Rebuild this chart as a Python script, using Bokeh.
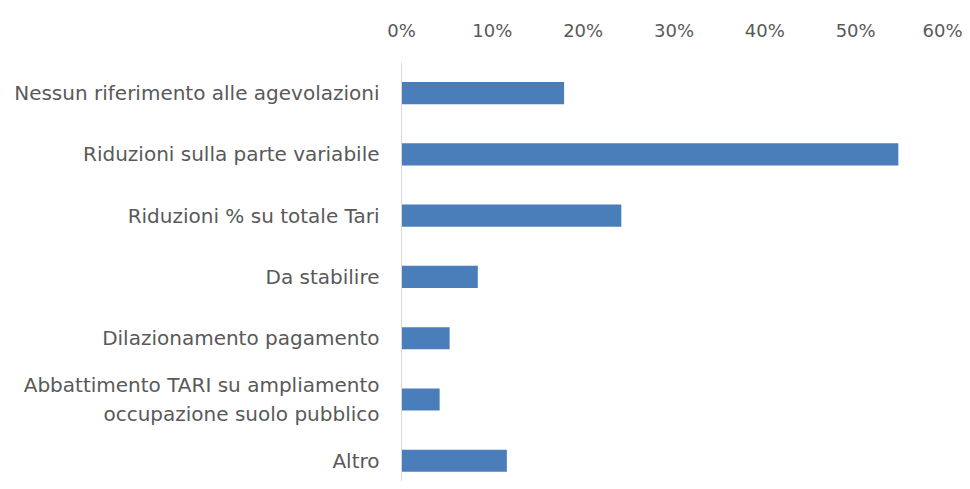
from bokeh.plotting import figure
from bokeh.models import Range1d, FixedTicker, NumeralTickFormatter
from bokeh.embed import file_html
from bokeh.resources import INLINE

categories = [
    "Nessun riferimento alle agevolazioni",
    "Riduzioni sulla parte variabile",
    "Riduzioni % su totale Tari",
    "Da stabilire",
    "Dilazionamento pagamento",
    "Abbattimento TARI su ampliamento\noccupazione suolo pubblico",
    "Altro",
]
values = [0.179, 0.547, 0.242, 0.084, 0.053, 0.042, 0.116]
x_ticks = [0, 0.1, 0.2, 0.3, 0.4, 0.5, 0.6]

positions = list(range(len(categories)))

p = figure(width=962, height=481, output_backend="svg", toolbar_location=None,
           x_axis_location="above",
           x_range=Range1d(0, 0.6), y_range=Range1d(6.34, -0.5),
           min_border_left=401, min_border_right=16, min_border_top=62, min_border_bottom=0)
p.outline_line_color = None
p.background_fill_color = "white"
p.border_fill_color = "white"

p.hbar(y=positions, right=values, left=0, height=0.36, color="#4a7ebb", line_color=None)

font = "DejaVu Sans"
xa = p.xaxis[0]
xa.ticker = FixedTicker(ticks=x_ticks)
xa.formatter = NumeralTickFormatter(format="0%")
xa.axis_line_color = None
xa.major_tick_line_color = None
xa.minor_tick_line_color = None
xa.major_label_standoff = 16
xa.major_label_text_font = font
xa.major_label_text_font_size = "18px"
xa.major_label_text_color = "#595959"

ya = p.yaxis[0]
ya.ticker = FixedTicker(ticks=positions)
ya.major_label_overrides = {i: c for i, c in zip(positions, categories)}
ya.axis_line_color = "#d9d9d9"
ya.axis_line_width = 1
ya.major_tick_line_color = None
ya.minor_tick_line_color = None
ya.major_label_standoff = 16
ya.major_label_text_font = font
ya.major_label_text_font_size = "20px"
ya.major_label_text_color = "#595959"

p.xgrid.grid_line_color = None
p.ygrid.grid_line_color = None

open("out.html", "w").write(file_html(p, INLINE))
